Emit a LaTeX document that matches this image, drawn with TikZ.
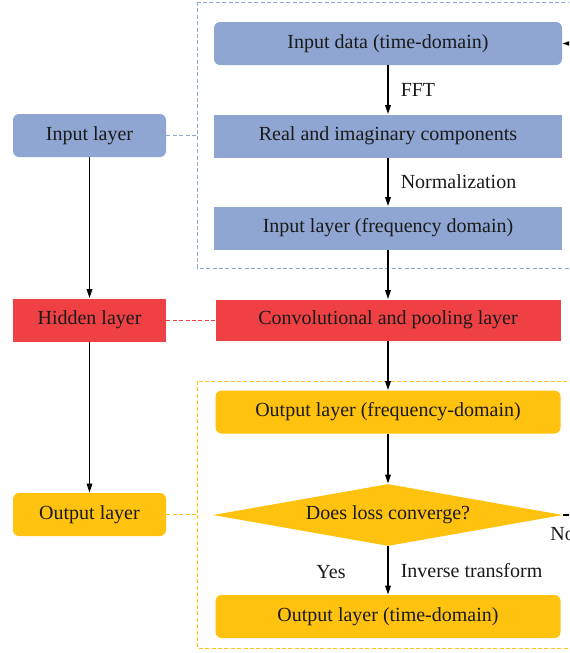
\documentclass[tikz,border=0pt]{standalone}
\usepackage{fontspec}
\setmainfont{Liberation Serif}
\usetikzlibrary{arrows.meta,positioning,shapes.geometric}
\definecolor{cBlue}{HTML}{8FA5D2}
\definecolor{cRed}{HTML}{EF4044}
\definecolor{cOrange}{HTML}{FFC20E}
\definecolor{cInk}{HTML}{1A1A1A}
\tikzset{
  lbox/.style={fill=#1,draw=none,align=center,font=\fontsize{10}{12}\selectfont,text=cInk,inner sep=2pt},
  lbox/.default=cBlue,
  arr/.style={-{Triangle[length=4.5pt,width=2.8pt]},line width=0.75pt,color=black},
  link/.style={draw=#1,dash pattern=on 2pt off 1.2pt,line width=0.45pt},
  lbl/.style={font=\fontsize{10}{12}\selectfont,text=cInk,anchor=west,inner sep=1pt},
}

\begin{document}
\begin{tikzpicture}[x=0.5pt,y=-0.5pt,
    lft/.style={lbox=#1,minimum width=76.5pt,minimum height=21.5pt},
    rgt/.style={lbox=#1,minimum width=174pt,minimum height=21.5pt}]
  \useasboundingbox (0,0) rectangle (569,653);
  \clip (0,0) rectangle (569,653);
  % dashed groups
  \draw[link=cBlue] (197,2) rectangle (640,268);
  \draw[link=cOrange] (197,381) rectangle (640,648);
  % left column
  \node[lft=cBlue,rounded corners=3pt] (inl) at (89.5,135.5) {Input layer};
  \node[lft=cRed] (hid) at (89.5,320) {Hidden layer};
  \node[lft=cOrange,rounded corners=3pt] (outl) at (89.5,514.5) {Output layer};
  \draw[arr] (inl) -- (hid);
  \draw[arr] (hid) -- (outl);
  % right column
  \node[rgt=cBlue,rounded corners=3pt] (indata) at (388,43.5) {Input data (time-domain)};
  \node[rgt=cBlue] (reim) at (388,136) {Real and imaginary components};
  \node[rgt=cBlue] (infreq) at (388,228) {Input layer (frequency domain)};
  \node[rgt=cRed,minimum width=172.5pt,minimum height=20.5pt] (conv) at (388,320) {Convolutional and pooling layer};
  \node[rgt=cOrange,rounded corners=3pt,minimum width=172.5pt] (outfreq) at (388,412) {Output layer (frequency-domain)};
  \node[lbox=cOrange,diamond,aspect=5.65,inner sep=0pt,minimum width=175pt,minimum height=31pt] (conv2) at (388,515) {Does loss converge?};
  \node[rgt=cOrange,rounded corners=3pt,minimum width=172.5pt] (outtime) at (388,616.5) {Output layer (time-domain)};
  \draw[arr] (indata) -- node[lbl,right=5pt] {FFT} (reim);
  \draw[arr] (reim) -- node[lbl,right=5pt] {Normalization} (infreq);
  \draw[arr] (infreq) -- (conv);
  \draw[arr] (conv) -- (outfreq);
  \draw[arr] (outfreq) -- (conv2);
  \draw[arr] (conv2) -- node[lbl,right=5pt] {Inverse transform} (outtime);
  \node[lbl,anchor=center] (yes) at (331,572) {Yes};
  % loop back (cut at the right edge)
  \coordinate (loopout) at (600,515);
  \coordinate (loopin) at (600,43.5);
  \draw[line width=0.75pt] (conv2.east) -- (loopout);
  \node[lbl] (no) at (548,534) {No};
  \draw[arr] (loopin) -- (indata);
  % layer links
  \coordinate (bluegrp) at (197,135.5);
  \coordinate (orangegrp) at (197,514.5);
  \draw[link=cBlue] (inl) -- (bluegrp);
  \draw[link=cRed] (hid) -- (conv);
  \draw[link=cOrange] (outl) -- (orangegrp);
\end{tikzpicture}
\end{document}
